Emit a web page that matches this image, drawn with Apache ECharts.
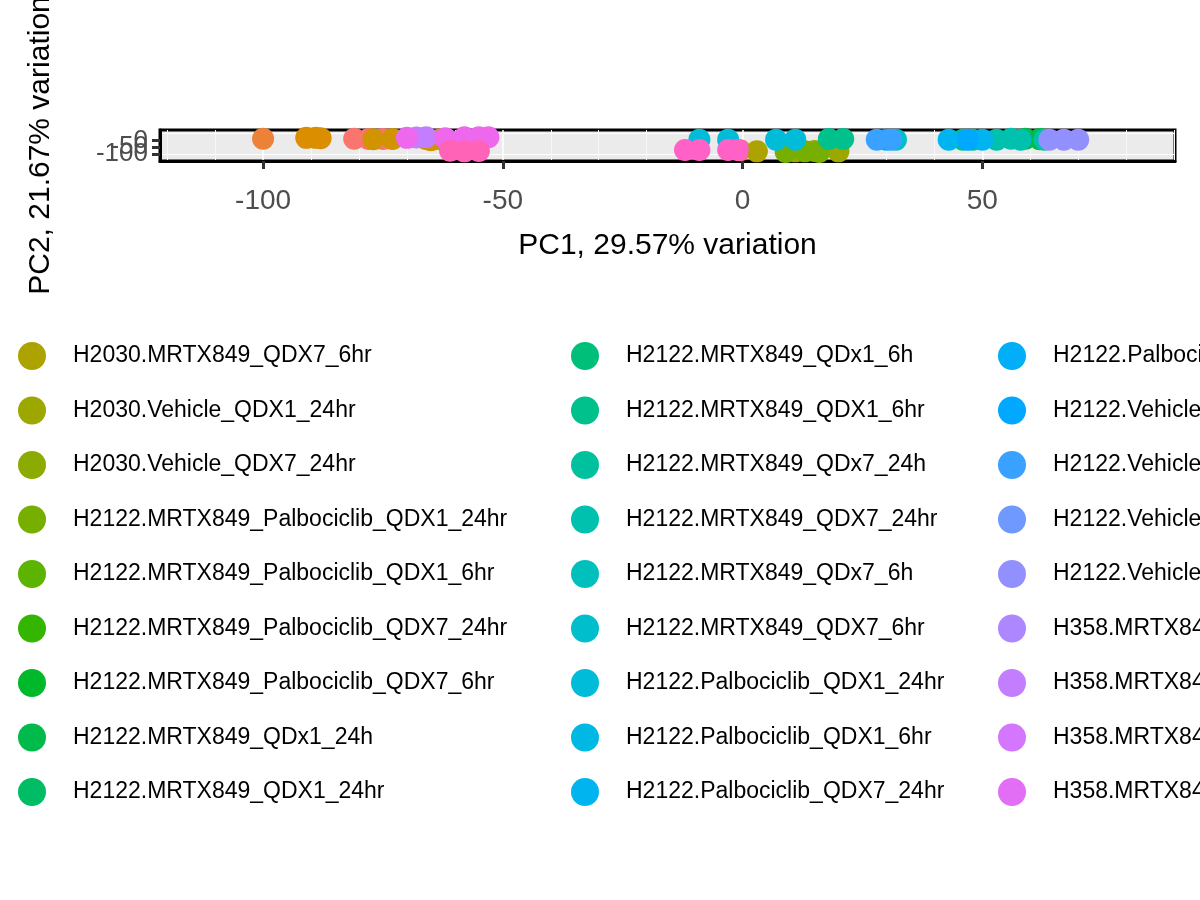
<!DOCTYPE html>
<html>
<head>
<meta charset="utf-8">
<script src="https://cdn.jsdelivr.net/npm/echarts@6/dist/echarts.min.js"></script>
<style>html,body{margin:0;padding:0;background:#fff}#chart{width:1200px;height:900px}</style>
</head>
<body>
<div id="chart"></div>
<script>
// ggplot style hcl hue palette
function hcl(h, c, l) {
    var hr = h * Math.PI / 180;
    var u = c * Math.cos(hr), v = c * Math.sin(hr);
    var Xn = 95.047, Yn = 100, Zn = 108.883;
    var un = 4 * Xn / (Xn + 15 * Yn + 3 * Zn), vn = 9 * Yn / (Xn + 15 * Yn + 3 * Zn);
    var Y = l > 8 ? Yn * Math.pow((l + 16) / 116, 3) : Yn * l / 903.3;
    var up = u / (13 * l) + un, vp = v / (13 * l) + vn;
    var X = Y * 9 * up / (4 * vp);
    var Z = Y * (12 - 3 * up - 20 * vp) / (4 * vp);
    X /= 100; Y /= 100; Z /= 100;
    var r = 3.2406 * X - 1.5372 * Y - 0.4986 * Z;
    var g = -0.9689 * X + 1.8758 * Y + 0.0415 * Z;
    var b = 0.0557 * X - 0.2040 * Y + 1.0570 * Z;
    function gam(t) {
	t = t <= 0.0031308 ? 12.92 * t : 1.055 * Math.pow(t, 1 / 2.4) - 0.055;
	return Math.max(0, Math.min(255, Math.round(t * 255)));
    }
    return 'rgb(' + gam(r) + ',' + gam(g) + ',' + gam(b) + ')';
}
var groups = [
    'H2030.MRTX849_Palbociclib_QDX1_24hr', 'H2030.MRTX849_Palbociclib_QDX1_6hr',
    'H2030.MRTX849_Palbociclib_QDX7_24hr', 'H2030.MRTX849_Palbociclib_QDX7_6hr',
    'H2030.MRTX849_QDX1_24hr', 'H2030.MRTX849_QDX1_6hr', 'H2030.MRTX849_QDX7_24hr',
    'H2030.MRTX849_QDx7_6h',
    'H2030.MRTX849_QDX7_6hr', 'H2030.Vehicle_QDX1_24hr', 'H2030.Vehicle_QDX7_24hr',
    'H2122.MRTX849_Palbociclib_QDX1_24hr', 'H2122.MRTX849_Palbociclib_QDX1_6hr',
    'H2122.MRTX849_Palbociclib_QDX7_24hr', 'H2122.MRTX849_Palbociclib_QDX7_6hr',
    'H2122.MRTX849_QDx1_24h', 'H2122.MRTX849_QDX1_24hr',
    'H2122.MRTX849_QDx1_6h', 'H2122.MRTX849_QDX1_6hr', 'H2122.MRTX849_QDx7_24h',
    'H2122.MRTX849_QDX7_24hr', 'H2122.MRTX849_QDx7_6h', 'H2122.MRTX849_QDX7_6hr',
    'H2122.Palbociclib_QDX1_24hr', 'H2122.Palbociclib_QDX1_6hr', 'H2122.Palbociclib_QDX7_24hr',
    'H2122.Palbociclib_QDX7_6hr', 'H2122.Vehicle_QDX1_24hr', 'H2122.Vehicle_QDX1_6hr',
    'H2122.Vehicle_QDX7_24hr', 'H2122.Vehicle_QDX7_6hr',
    'H358.MRTX849_Palbociclib_QDX1_24hr', 'H358.MRTX849_Palbociclib_QDX1_6hr',
    'H358.MRTX849_Palbociclib_QDX7_24hr', 'H358.MRTX849_Palbociclib_QDX7_6hr',
    'H358.MRTX849_QDX1_24hr', 'H358.MRTX849_QDX1_6hr', 'H358.MRTX849_QDX7_24hr',
    'H358.MRTX849_QDX7_6hr', 'H358.Vehicle_QDX1_24hr', 'H358.Vehicle_QDX1_6hr',
    'H358.Vehicle_QDX7_24hr', 'H358.Vehicle_QDX7_6hr'
];
var n = groups.length;
var colors = groups.map(function (g, i) { return hcl(15 + 360 / n * i, 100, 65); });
// PC1, PC2 per group
var points = {
    0: [[-81, 12], [-78, 10], [-75, 10], [-0.5, -72]],
    2: [[-100, 12]],
    4: [[-91, 18], [-89, 18], [-88, 16]],
    5: [[-77, 8], [-73, 10], [-66, 10], [-63, 8], [-65, 0]],
    8: [[3, -80]],
    9: [[11, -80], [15, -78], [20, -80]],
    11: [[9, -85], [13, -80], [16, -85]],
    13: [[62, 8]],
    15: [[59, 12], [62, 10]],
    18: [[18, 10], [21, 10], [46, 5], [48, 5]],
    20: [[53, 5], [56, 12], [58, 5], [63, 5]],
    22: [[32, 5]],
    23: [[-9, 5], [-3, 5], [7, 5], [11, 5]],
    25: [[43, 5], [50, 5]],
    27: [[30, 5], [47, 5]],
    28: [[28, 5], [31, 5]],
    30: [[64, 5], [67, 5], [70, 5]],
    32: [[-68, 20], [-66, 22]],
    35: [[-70, 18], [-62, 16], [-58, 22], [-55, 22], [-53, 22]],
    38: [[-12, -70], [-9, -70], [-3, -70], [-1, -70]],
    39: [[-61, -75], [-58, -80], [-55, -78]]
};
var series = groups.map(function (g, i) {
    return {
	name: g, type: 'scatter', symbolSize: 22, clip: false, yAxisIndex: 0,
	itemStyle: { color: colors[i], opacity: 1 },
	data: points[i] || []
    };
});
function mkLegend(left, from) {
    return {
	orient: 'vertical', left: left, top: 337, itemWidth: 28, itemHeight: 28, itemGap: 26.5,
	icon: 'circle', selectedMode: false,
	textStyle: { fontSize: 23, color: '#000', fontFamily: 'Liberation Sans', padding: [0, 0, 0, 22] },
	data: groups.slice(from, from + 9)
    };
}
var ticks = [-100, -50, 0, 50];
function mkYAxis(vals, withName) {
    return {
	type: 'value', min: -150, max: 75, position: 'left',
	name: withName ? 'PC2, 21.67% variation' : '', nameLocation: 'middle', nameGap: 104,
	nameTextStyle: { fontSize: 30, color: '#000', fontFamily: 'Liberation Sans' },
	axisLine: { show: withName, onZero: false, lineStyle: { color: '#000', width: 3 } },
	axisTick: { show: true, length: 8, lineStyle: { color: '#333', width: 3 }, customValues: vals },
	axisLabel: { fontSize: 26, color: '#4D4D4D', margin: 12, hideOverlap: false, showMinLabel: true, showMaxLabel: true, fontFamily: 'Liberation Sans', customValues: vals },
	splitLine: { show: withName, lineStyle: { color: '#fff', width: 1 } }
    };
}
var option = {
    animation: false,
    color: colors,
    grid: { left: 160, right: 25, top: 130, height: 31, outerBoundsMode: 'none', containLabel: false,
	show: true, backgroundColor: '#EBEBEB', borderColor: '#000', borderWidth: 3 },
    xAxis: {
	type: 'value', min: -121.5, max: 90.2,
	name: 'PC1, 29.57% variation', nameLocation: 'middle', nameGap: 70,
	nameTextStyle: { fontSize: 30, color: '#000', fontFamily: 'Liberation Sans' },
	axisLine: { show: true, onZero: false, lineStyle: { color: '#000', width: 3 } },
	axisTick: { show: true, length: 8, lineStyle: { color: '#333', width: 3 }, customValues: ticks },
	axisLabel: { fontSize: 28, color: '#4D4D4D', margin: 26, hideOverlap: false, fontFamily: 'Liberation Sans', customValues: ticks },
	splitLine: { show: true, lineStyle: { color: '#fff', width: 1.5 } },
	minorSplitLine: { show: true, lineStyle: { color: '#f7f7f7' } }
    },
    yAxis: [mkYAxis([-100, 50], true), mkYAxis([-50], false), mkYAxis([0], false)],
    legend: [mkLegend(13, 8), mkLegend(566, 17), mkLegend(993, 26)],
    series: series
};
var chart = echarts.init(document.getElementById('chart'));
chart.setOption(option);
</script>
</body>
</html>
